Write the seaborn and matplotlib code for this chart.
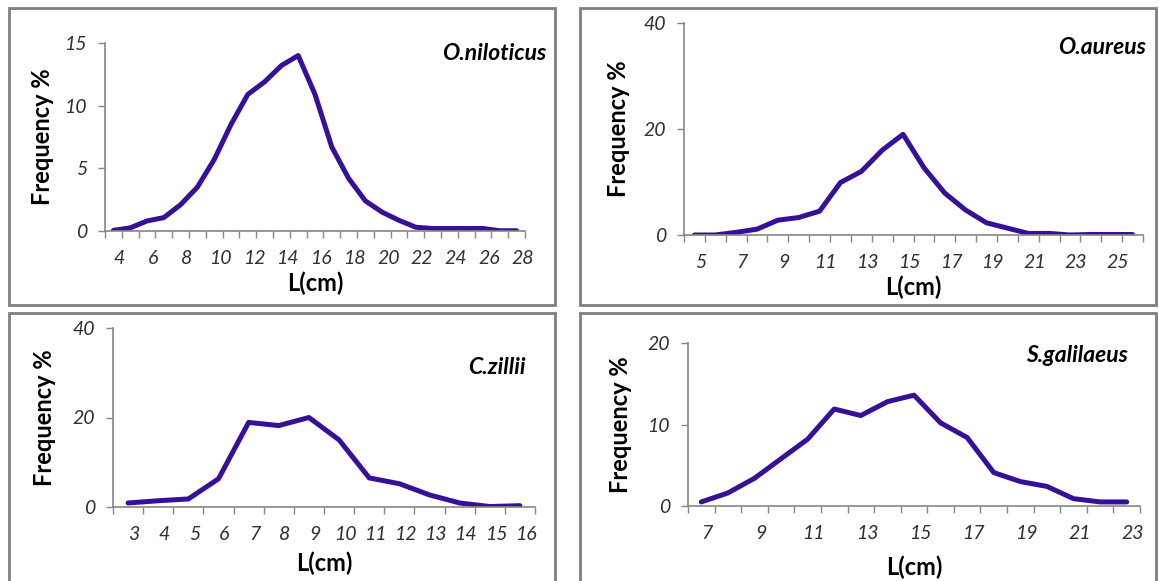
import pandas as pd
import matplotlib
matplotlib.use("Agg")
import matplotlib.pyplot as plt
import seaborn as sns
from matplotlib.patches import Rectangle
from matplotlib.transforms import ScaledTranslation

# length classes (cm) and frequency % per species
nil_len = [4, 5, 6, 7, 8, 9, 10, 11, 12, 13, 14, 15, 16, 17, 18, 19, 20, 21, 22, 23, 24, 25, 26, 27, 28]
nil_freq = [0.05, 0.25, 0.8, 1.07, 2.1, 3.5, 5.7, 8.5, 10.9, 11.9, 13.2, 14.0, 10.9,
            6.7, 4.2, 2.4, 1.5, 0.85, 0.3, 0.2, 0.2, 0.2, 0.2, 0.02, 0.02]

aur_len = [5, 6, 7, 8, 9, 10, 11, 12, 13, 14, 15, 16, 17, 18, 19, 20, 21, 22, 23, 24, 25, 26]
aur_freq = [0.0, 0.0, 0.5, 1.1, 2.8, 3.3, 4.5, 9.9, 12.0, 16.0, 19.0, 12.7, 7.9,
            4.7, 2.3, 1.3, 0.3, 0.3, 0.0, 0.1, 0.1, 0.1]

zil_len = [3, 4, 5, 6, 7, 8, 9, 10, 11, 12, 13, 14, 15, 16]
zil_freq = [0.9, 1.4, 1.8, 6.3, 18.9, 18.2, 20.0, 15.0, 6.5, 5.2, 2.7, 0.9, 0.1, 0.3]

gal_len = [7, 8, 9, 10, 11, 12, 13, 14, 15, 16, 17, 18, 19, 20, 21, 22, 23]
gal_freq = [0.5, 1.6, 3.4, 5.8, 8.2, 11.9, 11.1, 12.8, 13.6, 10.2, 8.4, 4.1, 3.0, 2.4, 0.9, 0.5, 0.5]

species = ['O.niloticus', 'O.aureus', 'C.zillii', 'S.galilaeus']
y_ticks = [[0, 5, 10, 15], [0, 20, 40], [0, 20, 40], [0, 10, 20]]
label_step = [2, 2, 1, 2]

W, H = 1159, 581
LINE = '#37109a'
AXC = '#868686'

sns.set_style("white")
plt.rcParams['font.family'] = ['Lato', 'DejaVu Sans']

fig = plt.figure(figsize=(W / 100, H / 100), dpi=100)

# panel layout in pixels: axes box (left, top, right, bottom), frame, ylabel x, xlabel y, species pos
layout = [
    dict(ax=(105, 43, 525, 231), frame=(9, 8, 555, 305), ylab=43, xlab=283, sp=(546, 53)),
    dict(ax=(684, 23, 1143, 235), frame=(580, 8, 1156, 305), ylab=618, xlab=287, sp=(1146, 47)),
    dict(ax=(113, 328, 535, 507), frame=(9, 313, 555, 595), ylab=45, xlab=563, sp=(526, 367)),
    dict(ax=(688, 343, 1140, 506), frame=(580, 313, 1156, 595), ylab=620, xlab=567, sp=(1128, 355)),
]

data = [(nil_len, nil_freq), (aur_len, aur_freq), (zil_len, zil_freq), (gal_len, gal_freq)]

for (lengths, freq), lay, name, yt, step in zip(data, layout, species, y_ticks, label_step):
    l, t, r, b = lay['ax']
    ax = fig.add_axes([l / W, 1 - b / H, (r - l) / W, (b - t) / H])
    df = pd.DataFrame({'pos': range(len(lengths)), 'freq': freq})
    sns.lineplot(data=df, x='pos', y='freq', ax=ax, color=LINE, linewidth=3.6,
                 solid_capstyle='round', solid_joinstyle='round')

    n = len(lengths)
    ax.set_xlim(-0.5, n - 0.5)
    ax.set_ylim(0, yt[-1])
    ax.set_yticks(yt)
    ax.set_yticklabels([str(v) for v in yt], fontstyle='italic', fontsize=14, color='#303030')
    ax.set_xticks(range(n))
    ax.set_xticklabels([str(v) if i % step == 0 else '' for i, v in enumerate(lengths)],
                       fontstyle='italic', fontsize=14, color='#303030')
    ax.set_xticks([i - 0.5 for i in range(n + 1)], minor=True)
    ax.tick_params(axis='x', which='major', length=0, pad=14)
    ax.tick_params(axis='x', which='minor', length=5, width=1, color=AXC, direction='out', bottom=True)
    ax.tick_params(axis='y', length=5, width=1, color=AXC, direction='out', left=True, pad=8)
    for lbl in ax.get_xticklabels():
        lbl.set_transform(lbl.get_transform() + ScaledTranslation(6 / 100, 0, fig.dpi_scale_trans))

    for s in ['top', 'right']:
        ax.spines[s].set_visible(False)
    for s in ['left', 'bottom']:
        ax.spines[s].set_color(AXC)
        ax.spines[s].set_linewidth(1.2)

    ax.set_ylabel('Frequency %', fontsize=17, fontweight='bold', color='black')
    ax.yaxis.set_label_coords((lay['ylab'] - l) / (r - l), 0.5)
    ax.set_xlabel('L(cm)', fontsize=17, fontweight='bold', color='black')
    ax.xaxis.set_label_coords(0.5, -(lay['xlab'] - b) / (b - t))
    ax.xaxis.label.set_va('center')
    ax.yaxis.label.set_va('center')

    fx, fy = lay['sp']
    fig.text(fx / W, 1 - fy / H, name, ha='right', va='center', fontsize=16.5,
             fontweight='bold', fontstyle='italic', color='black')

    x0, y0, x1, y1 = lay['frame']
    fig.add_artist(Rectangle((x0 / W, 1 - y1 / H), (x1 - x0) / W, (y1 - y0) / H,
                             transform=fig.transFigure, fill=False, edgecolor='#7f7f7f', linewidth=2))

fig.savefig('out.png', dpi=100)
